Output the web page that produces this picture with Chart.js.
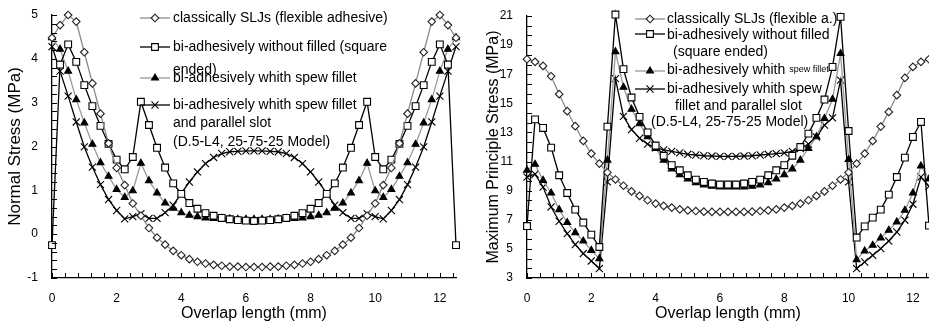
<!DOCTYPE html>
<html>
<head>
<meta charset="utf-8">
<script src="https://cdn.jsdelivr.net/npm/chart.js@4.4.1/dist/chart.umd.min.js"></script>
<style>
    html, body { margin: 0; padding: 0; background: #fff; }
    #wrap { position: relative; width: 929px; height: 326px; overflow: hidden; }
    .box { position: absolute; top: 0; height: 326px; }
    #left-box { left: 0; width: 464px; }
    #right-box { left: 464px; width: 465px; }
</style>
</head>
<body>
<div id="wrap">
    <div class="box" id="left-box"><canvas id="normal-chart" width="464" height="326"></canvas></div>
    <div class="box" id="right-box"><canvas id="principal-chart" width="465" height="326"></canvas></div>
</div>
<script>
// Overlap positions (mm)
const overlap = [0, 0.25, 0.5, 0.75, 1, 1.25, 1.5, 1.75, 2, 2.25, 2.5, 2.75, 3, 3.25, 3.5, 3.75, 4, 4.25, 4.5, 4.75,
    5, 5.25, 5.5, 5.75, 6, 6.25, 6.5, 6.75, 7, 7.25, 7.5, 7.75, 8, 8.25, 8.5, 8.75, 9, 9.25, 9.5, 9.75,
    10, 10.25, 10.5, 10.75, 11, 11.25, 11.5, 11.75, 12, 12.25, 12.5];

const xTicks = [0, 2, 4, 6, 8, 10, 12];
const normalTicks = [-1, 0, 1, 2, 3, 4, 5];
const principalTicks = [3, 5, 7, 9, 11, 13, 15, 17, 19, 21];

// Normal stress (MPa)
const normalClassic = [4.48, 4.77, 5.0, 4.85, 4.15, 3.44, 2.75, 2.07, 1.51, 1.12, 0.70, 0.42, 0.14, -0.08, -0.24, -0.38, -0.48, -0.57, -0.63, -0.67,
    -0.70, -0.72, -0.74, -0.74, -0.75, -0.75, -0.75, -0.74, -0.74, -0.72, -0.70, -0.67, -0.63, -0.57, -0.48, -0.38, -0.24, -0.08, 0.14, 0.42,
    0.70, 1.12, 1.51, 2.07, 2.75, 3.44, 4.15, 4.85, 5.0, 4.77, 4.48];
const normalSquare = [-0.25, 3.87, 4.33, 3.93, 3.40, 2.92, 2.47, 2.06, 1.70, 1.48, 1.76, 3.02, 2.49, 1.97, 1.52, 1.16, 0.92, 0.71, 0.58, 0.48,
    0.42, 0.37, 0.34, 0.32, 0.31, 0.30, 0.31, 0.32, 0.34, 0.37, 0.42, 0.48, 0.58, 0.71, 0.92, 1.16, 1.52, 1.97, 2.49, 3.02,
    1.76, 1.48, 1.70, 2.06, 2.47, 2.92, 3.40, 3.93, 4.33, 3.87, -0.25];
const normalSpew = [4.48, 4.22, 3.72, 3.07, 2.54, 2.05, 1.63, 1.32, 1.02, 0.84, 0.99, 1.62, 1.22, 0.94, 0.71, 0.59, 0.49, 0.43, 0.40, 0.37,
    0.36, 0.36, 0.35, 0.34, 0.34, 0.34, 0.34, 0.34, 0.35, 0.36, 0.36, 0.37, 0.40, 0.43, 0.49, 0.59, 0.71, 0.94, 1.22, 1.62,
    0.99, 0.84, 1.02, 1.32, 1.63, 2.05, 2.54, 3.07, 3.72, 4.22, 4.48];
const normalSlot = [4.28, 3.72, 3.15, 2.56, 1.99, 1.53, 1.13, 0.79, 0.54, 0.35, 0.40, 0.47, 0.36, 0.36, 0.49, 0.66, 0.93, 1.19, 1.42, 1.61,
    1.75, 1.84, 1.88, 1.89, 1.90, 1.90, 1.90, 1.89, 1.88, 1.84, 1.75, 1.61, 1.42, 1.19, 0.93, 0.66, 0.49, 0.36, 0.36, 0.47,
    0.40, 0.35, 0.54, 0.79, 1.13, 1.53, 1.99, 2.56, 3.15, 3.72, 4.28];

// Maximum principle stress (MPa)
const principalClassic = [18.03, 17.85, 17.57, 16.86, 15.63, 14.46, 13.43, 12.42, 11.55, 10.86, 10.25, 9.77, 9.34, 8.95, 8.64, 8.34, 8.11, 7.95, 7.84, 7.72,
    7.65, 7.60, 7.56, 7.54, 7.54, 7.54, 7.54, 7.54, 7.56, 7.60, 7.65, 7.72, 7.84, 7.95, 8.11, 8.34, 8.64, 8.95, 9.34, 9.77,
    10.25, 10.86, 11.55, 12.42, 13.40, 14.41, 15.56, 16.75, 17.50, 17.85, 18.03];
const principalSquare = [6.57, 13.9, 13.31, 11.96, 10.06, 8.84, 7.70, 6.81, 5.98, 5.13, 13.4, 21.1, 17.35, 15.4, 14.07, 13.0, 12.1, 11.4, 10.75, 10.4,
    10.06, 9.76, 9.6, 9.49, 9.42, 9.42, 9.42, 9.49, 9.6, 9.76, 10.06, 10.4, 10.75, 11.4, 12.0, 12.92, 14.0, 15.26, 17.5, 20.94,
    13.1, 5.78, 6.55, 7.15, 7.70, 8.73, 9.94, 11.27, 12.69, 13.72, 6.6];
const principalSpew = [10.40, 10.81, 9.71, 8.84, 7.70, 6.81, 6.12, 5.54, 4.90, 4.33, 11.1, 18.55, 16.1, 14.6, 13.6, 12.7, 11.9, 11.1, 10.5, 10.1,
    9.8, 9.55, 9.4, 9.3, 9.25, 9.25, 9.25, 9.25, 9.3, 9.4, 9.55, 9.8, 10.1, 10.5, 11.1, 11.9, 12.7, 13.96, 15.28, 18.42,
    11.14, 4.26, 4.86, 5.25, 5.75, 6.28, 6.85, 7.65, 8.84, 10.7, 9.8];
const principalSlot = [9.94, 10.13, 9.25, 7.88, 6.9, 6.05, 5.3, 4.68, 4.17, 3.65, 9.6, 16.7, 14.1, 13.2, 12.6, 12.2, 11.95, 11.8, 11.7, 11.6,
    11.5, 11.45, 11.4, 11.38, 11.36, 11.36, 11.36, 11.38, 11.4, 11.45, 11.5, 11.55, 11.6, 11.7, 11.9, 12.2, 12.69, 13.5, 14.0, 16.59,
    9.6, 3.65, 4.10, 4.56, 5.02, 5.54, 6.16, 6.97, 8.07, 9.94, 9.3];

// Marker / line look for the four configurations
const seriesStyles = [
    { pointStyle: 'rectRot', radius: 3.8, line: '#8a8a8a', border: '#222', fill: '#fff' },
    { pointStyle: 'rect', radius: 4.8, line: '#000', border: '#000', fill: '#fff' },
    { pointStyle: 'triangle', radius: 4, line: '#9a9a9a', border: '#000', fill: '#000' },
    { pointStyle: 'crossRot', radius: 5, line: '#000', border: '#000', fill: '#000' }
];

const FONT = '"Liberation Sans", Arial, sans-serif';

function makeDataset(values, idx) {
    const st = seriesStyles[idx];
    return {
        data: overlap.map((x, i) => ({ x: x, y: values[i] })),
        borderColor: st.line,
        backgroundColor: st.fill,
        borderWidth: 1.3,
        pointStyle: st.pointStyle,
        pointRadius: st.radius,
        pointBorderColor: st.border,
        pointBackgroundColor: st.fill,
        pointBorderWidth: 1.1,
        fill: false,
        tension: 0,
        clip: false
    };
}

// Inward minor ticks on both axes
const minorTicks = {
    id: 'minorTicks',
    afterDraw(chart, args, opts) {
        const { ctx, chartArea } = chart;
        const xs = chart.scales.x, ys = chart.scales.y;
        ctx.save();
        ctx.strokeStyle = '#000';
        ctx.lineWidth = 1;
        ctx.beginPath();
        const nx = Math.floor((xs.max - xs.min) / opts.xStep + 1e-6);
        for (let i = 0; i <= nx; i++) {
            const px = Math.round(xs.getPixelForValue(xs.min + i * opts.xStep)) + 0.5;
            ctx.moveTo(px, chartArea.bottom);
            ctx.lineTo(px, chartArea.bottom - 5);
        }
        const ny = Math.round((ys.max - ys.min) / opts.yStep);
        for (let i = 0; i <= ny; i++) {
            const py = Math.round(ys.getPixelForValue(ys.min + i * opts.yStep)) + 0.5;
            ctx.moveTo(chartArea.left, py);
            ctx.lineTo(chartArea.left + 5, py);
        }
        ctx.stroke();
        ctx.restore();
    }
};

// Hand placed legend like the original figure
const seriesLegend = {
    id: 'seriesLegend',
    afterDraw(chart, args, opts) {
        const ctx = chart.ctx;
        ctx.save();
        opts.entries.forEach(e => {
            const st = seriesStyles[e.series];
            ctx.strokeStyle = st.line;
            ctx.lineWidth = 1.3;
            ctx.beginPath();
            ctx.moveTo(opts.x1, e.y);
            ctx.lineTo(opts.x2, e.y);
            ctx.stroke();
            ctx.strokeStyle = st.border;
            ctx.fillStyle = st.fill;
            ctx.lineWidth = 1.1;
            Chart.helpers.drawPoint(ctx, { pointStyle: st.pointStyle, radius: st.radius, borderWidth: 1.1, rotation: 0 },
                (opts.x1 + opts.x2) / 2, e.y);
            ctx.fillStyle = '#000';
            ctx.textBaseline = 'middle';
            e.lines.forEach(l => {
                let x = l.x !== undefined ? l.x : opts.tx;
                l.parts.forEach(p => {
                    ctx.font = (p.size || 14) + 'px ' + FONT;
                    ctx.fillText(p.text, x, l.y);
                    x += ctx.measureText(p.text).width;
                });
            });
        });
        ctx.restore();
    }
};

function buildChart(canvasId, cfg) {
    return new Chart(document.getElementById(canvasId), {
        type: 'scatter',
        data: { datasets: cfg.series.map((vals, i) => makeDataset(vals, i)) },
        options: {
            responsive: false,
            animation: false,
            showLine: true,
            layout: { autoPadding: false, padding: { top: cfg.padTop, right: cfg.padRight, left: 0, bottom: 0 } },
            plugins: {
                legend: { display: false },
                tooltip: { enabled: false },
                minorTicks: { xStep: 0.4, yStep: cfg.yMinor },
                seriesLegend: cfg.legend
            },
            scales: {
                x: {
                    type: 'linear', min: 0, max: 12.5,
                    border: { display: true, color: '#000', width: 1.3 },
                    // tick marks are hidden; tickLength only spaces the labels
                    grid: { display: false, drawTicks: true, tickLength: 13 },
                    afterBuildTicks: s => { s.ticks = xTicks.map(v => ({ value: v })); },
                    afterFit: s => { s.height = 48; },
                    ticks: { color: '#000', padding: 0, maxRotation: 0, font: { family: FONT, size: 12 } },
                    title: { display: true, text: 'Overlap length (mm)', color: '#000',
                        font: { family: FONT, size: 16 }, padding: { top: 0, bottom: 3 } }
                },
                y: {
                    type: 'linear', min: cfg.yMin, max: cfg.yMax,
                    border: { display: true, color: '#000', width: 1.3 },
                    grid: { display: false, drawTicks: true, tickLength: 14 },
                    afterBuildTicks: s => { s.ticks = cfg.yTicks.map(v => ({ value: v })); },
                    afterFit: s => { s.width = cfg.yWidth; },
                    ticks: { color: '#000', padding: 0, font: { family: FONT, size: 12 } },
                    title: { display: true, text: cfg.yTitle, color: '#000',
                        font: { family: FONT, size: cfg.yTitleSize }, padding: { top: cfg.yTitlePad, bottom: 0 } }
                }
            }
        },
        plugins: [minorTicks, seriesLegend]
    });
}

buildChart('normal-chart', {
    series: [normalClassic, normalSquare, normalSpew, normalSlot],
    yMin: -1, yMax: 5, yTicks: normalTicks, yMinor: 0.2,
    yTitle: 'Normal Stress (MPa)', yTitleSize: 17, yTitlePad: 5,
    yWidth: 52, padTop: 15, padRight: 8,
    legend: {
        x1: 140, x2: 170, tx: 173,
        entries: [
            { series: 0, y: 18, lines: [{ y: 18, parts: [{ text: 'classically SLJs (flexible adhesive)' }] }] },
            { series: 1, y: 47, lines: [{ y: 47, parts: [{ text: 'bi-adhesively without filled (square' }] },
                                         { y: 70, parts: [{ text: 'ended)' }] }] },
            { series: 2, y: 78, lines: [{ y: 78, parts: [{ text: 'bi-adhesively whith spew fillet' }] }] },
            { series: 3, y: 105, lines: [{ y: 105, parts: [{ text: 'bi-adhesively whith spew fillet' }] },
                                          { y: 123, parts: [{ text: 'and parallel slot' }] },
                                          { y: 142, parts: [{ text: '(D.5-L4, 25-75-25 Model)' }] }] }
        ]
    }
});

buildChart('principal-chart', {
    series: [principalClassic, principalSquare, principalSpew, principalSlot],
    yMin: 3, yMax: 21, yTicks: principalTicks, yMinor: 2 / 3,
    yTitle: 'Maximum Principle Stress (MPa)', yTitleSize: 16, yTitlePad: 20,
    yWidth: 63, padTop: 16, padRight: 0,
    legend: {
        x1: 171, x2: 201, tx: 203,
        entries: [
            { series: 0, y: 19, lines: [{ y: 19, parts: [{ text: 'classically SLJs (flexible a.)' }] }] },
            { series: 1, y: 34, lines: [{ y: 35, parts: [{ text: 'bi-adhesively without filled' }] },
                                         { y: 52, x: 209, parts: [{ text: '(square ended)' }] }] },
            { series: 2, y: 71, lines: [{ y: 70, parts: [{ text: 'bi-adhesively whith ' }, { text: 'spew fillet', size: 9 }] }] },
            { series: 3, y: 89, lines: [{ y: 89, parts: [{ text: 'bi-adhesively whith spew' }] },
                                         { y: 106, x: 211, parts: [{ text: 'fillet and parallel slot' }] },
                                         { y: 122, x: 187, parts: [{ text: '(D.5-L4, 25-75-25 Model)' }] }] }
        ]
    }
});
</script>
</body>
</html>
